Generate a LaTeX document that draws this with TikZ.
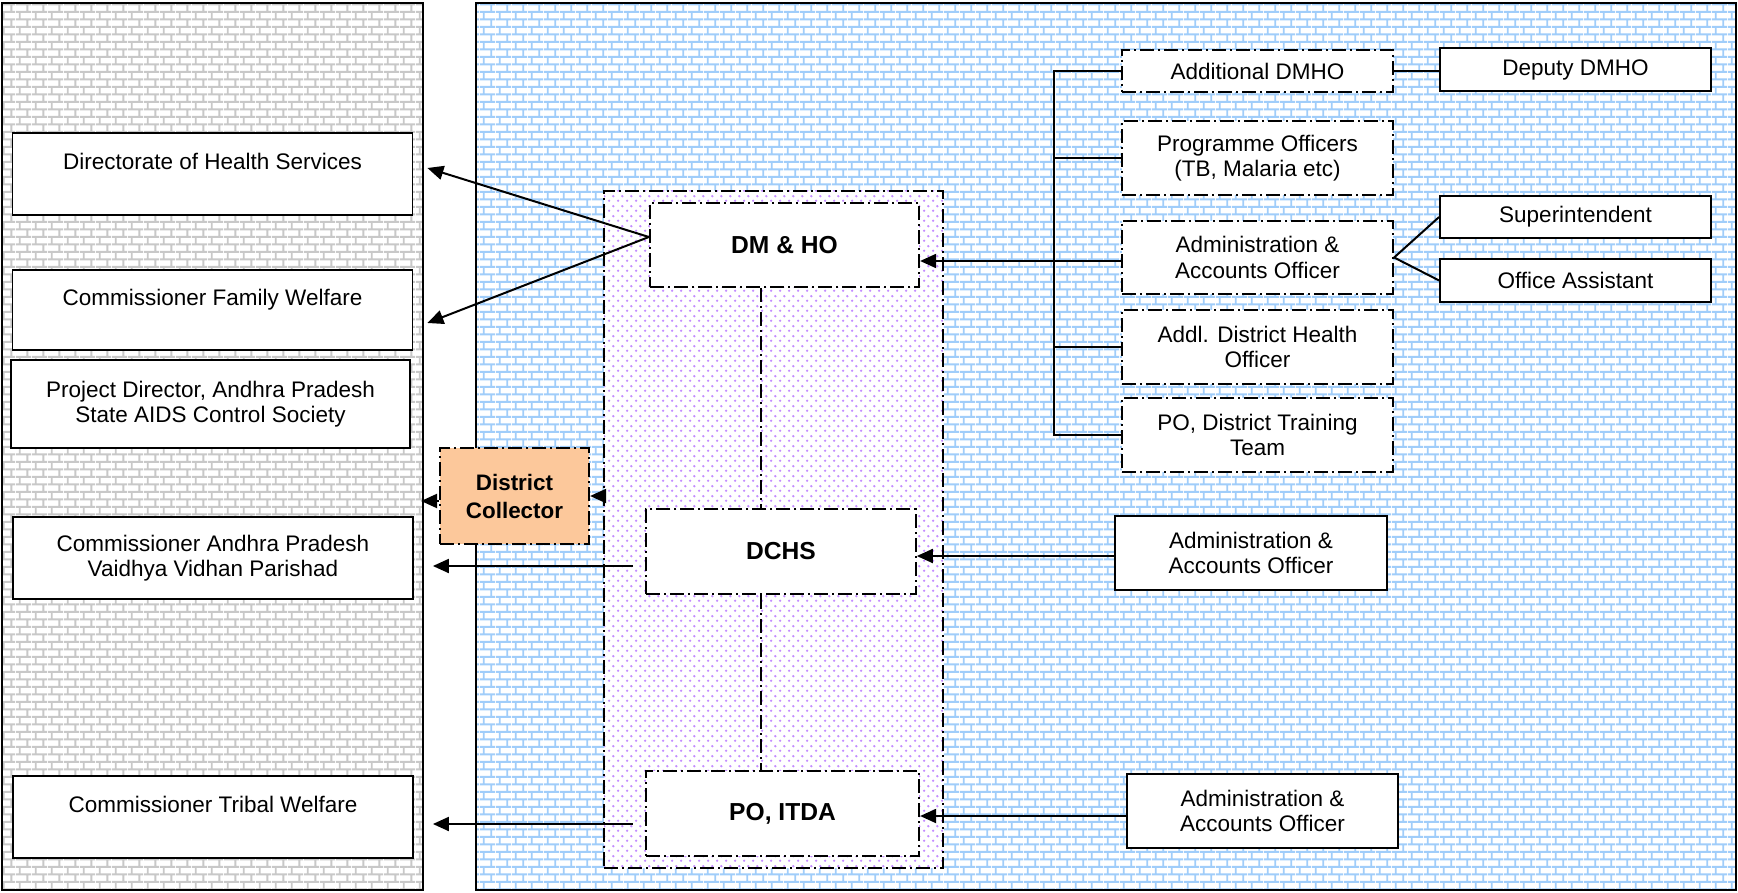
\documentclass[tikz,border=0pt]{standalone}
\usepackage{fontspec}
\setmainfont{Liberation Sans}
\usetikzlibrary{arrows.meta,patterns}

\definecolor{brickgray}{RGB}{200,200,200}
\definecolor{brickblue}{RGB}{160,205,250}
\definecolor{dotlilac}{RGB}{195,140,255}
\definecolor{collectorfill}{RGB}{252,200,155}

\pgfdeclarepatternformonly{wallbricks}{\pgfqpoint{0pt}{0pt}}{\pgfqpoint{8pt}{7.7pt}}{\pgfqpoint{8pt}{7.7pt}}{%
  \pgfsetlinewidth{1pt}%
  \pgfpathmoveto{\pgfqpoint{0pt}{1.9pt}}\pgfpathlineto{\pgfqpoint{8pt}{1.9pt}}%
  \pgfpathmoveto{\pgfqpoint{0pt}{5.75pt}}\pgfpathlineto{\pgfqpoint{8pt}{5.75pt}}%
  \pgfpathmoveto{\pgfqpoint{2pt}{1.9pt}}\pgfpathlineto{\pgfqpoint{2pt}{5.75pt}}%
  \pgfpathmoveto{\pgfqpoint{6pt}{5.75pt}}\pgfpathlineto{\pgfqpoint{6pt}{7.7pt}}%
  \pgfpathmoveto{\pgfqpoint{6pt}{0pt}}\pgfpathlineto{\pgfqpoint{6pt}{1.9pt}}%
  \pgfusepath{stroke}}

\pgfdeclarepatternformonly{lilacdots}{\pgfqpoint{0pt}{0pt}}{\pgfqpoint{4.6pt}{5pt}}{\pgfqpoint{4.6pt}{5pt}}{%
  \pgfpathcircle{\pgfqpoint{1.15pt}{1.25pt}}{0.7pt}%
  \pgfpathcircle{\pgfqpoint{3.45pt}{3.75pt}}{0.7pt}%
  \pgfusepath{fill}}

\begin{document}
\begin{tikzpicture}[x=0.5pt,y=-0.5pt]
\tikzstyle{every node}+=[font=\fontsize{11.25}{12.75}\selectfont, align=center, inner sep=0pt]
\tikzstyle{chainline}=[dash pattern=on 7pt off 2pt on 1pt off 2pt]
\tikzstyle{plainbox}=[draw=black, line width=0.9pt, fill=white, rectangle]
\tikzstyle{dotbox}=[draw=black, line width=1.1pt, fill=white, rectangle, chainline]
\tikzstyle{bold}=[font=\fontsize{12.3}{14}\selectfont\bfseries]
\tikzstyle{arr}=[line width=1pt, -{Triangle[length=8pt,width=7pt]}]
\tikzstyle{link}=[line width=1pt]
\useasboundingbox (0,0) rectangle (1738,893);
% the two walls
\draw [line width=0.9pt, preaction={fill=white}, pattern=wallbricks, pattern color=brickgray] (2,3) rectangle (423,890);
\draw [line width=0.9pt, preaction={fill=white}, pattern=wallbricks, pattern color=brickblue] (476,3) rectangle (1736,890);
\coordinate (wall) at (423,0);
\coordinate (trunk) at (1054,0);
% state level
\node [plainbox, minimum width=200pt, minimum height=41pt] (dhs) at (212.5,174) {Directorate of Health Services\\\mbox{}};
\node [plainbox, minimum width=200pt, minimum height=40pt] (cfw) at (212.5,310) {Commissioner Family Welfare\\\mbox{}};
\node [plainbox, minimum width=199.5pt, minimum height=44pt] (pd) at (210.5,404) {Project Director, Andhra Pradesh\\State AIDS Control Society};
\node [plainbox, minimum width=200pt, minimum height=41pt] (cavvp) at (213,558) {Commissioner Andhra Pradesh\\Vaidhya Vidhan Parishad};
\node [plainbox, minimum width=200pt, minimum height=41pt] (ctw) at (213,817) {Commissioner Tribal Welfare\\\mbox{}};
% district level
\node [draw=black, line width=1.1pt, chainline, preaction={fill=white}, pattern=lilacdots, pattern color=dotlilac, minimum width=169.5pt, minimum height=338.5pt] (district) at (773.5,529.5) {};
\node [dotbox, fill=collectorfill, minimum width=74.5pt, minimum height=48pt, font=\fontsize{11.2}{14}\selectfont\bfseries] (dc) at (514.5,496) {District\\Collector};
\node [dotbox, bold, minimum width=134.5pt, minimum height=42pt] (dmho) at (784.5,245) {DM \& HO};
\node [dotbox, bold, minimum width=134.75pt, minimum height=42.5pt] (dchs) at (781,551.5) {DCHS};
\node [dotbox, bold, minimum width=136.5pt, minimum height=42.5pt] (poitda) at (782.5,813.5) {PO, ITDA};
\draw [link, chainline] ([xshift=-12pt]dmho.south) coordinate (v1) -- (v1 |- dchs.north);
\draw [link, chainline] ([xshift=-10pt]dchs.south) coordinate (v2) -- (v2 |- poitda.north);
% officers under DM & HO
\node [dotbox, minimum width=135.5pt, minimum height=21pt] (adm) at (1257.5,71) {Additional DMHO};
\node [dotbox, minimum width=135.5pt, minimum height=37pt] (prog) at (1257.5,158) {Programme Officers\\(TB, Malaria etc)};
\node [dotbox, minimum width=135.5pt, minimum height=36.5pt] (aao) at (1257.5,257.5) {Administration \&\\Accounts Officer};
\node [dotbox, minimum width=135.5pt, minimum height=37pt] (adho) at (1257.5,347) {Addl. District Health\\Officer};
\node [dotbox, minimum width=135.5pt, minimum height=37pt] (podtt) at (1257.5,435) {PO, District Training\\Team};
\node [plainbox, minimum width=135.5pt, minimum height=21.5pt] (ddmho) at (1575.5,69.5) {Deputy DMHO};
\node [plainbox, minimum width=135.5pt, minimum height=21pt] (sup) at (1575.5,217) {Superintendent};
\node [plainbox, minimum width=135.5pt, minimum height=21.5pt] (oa) at (1575.5,280.5) {Office Assistant};
\node [plainbox, minimum width=136pt, minimum height=37pt] (aao2) at (1251,553) {Administration \&\\Accounts Officer};
\node [plainbox, minimum width=135.5pt, minimum height=37pt] (aao3) at (1262.5,811) {Administration \&\\Accounts Officer};
% reporting lines
\draw [arr] ([yshift=4pt]dmho.west) -- ([shift={(7pt,3pt)}]dhs.east);
\draw [arr] ([yshift=4pt]dmho.west) -- ([shift={(7pt,-6.5pt)}]cfw.east);
\draw [arr] ([shift={(-6pt,-7.25pt)}]dchs.west) -- ([shift={(9.5pt,-4pt)}]cavvp.east);
\draw [arr] ([shift={(-6pt,-5.25pt)}]poitda.west) -- ([shift={(9.5pt,-3.5pt)}]ctw.east);
\draw [arr, shorten <=-3pt] (dc.east -| district.west) -- (dc.east);
\draw [arr, shorten >=-1pt] ([yshift=-2.5pt]dc.west) coordinate (dcw) -- (dcw -| wall);
\draw [arr] ([yshift=-1.75pt]aao.west) coordinate (aaow) -- (aaow -| dmho.east);
\draw [arr] ([yshift=-1.5pt]aao2.west) coordinate (aao2w) -- (aao2w -| dchs.east);
\draw [arr] ([yshift=-2.5pt]aao3.west) coordinate (aao3w) -- (aao3w -| poitda.east);
% tree on the right
\draw [link] (adm.west) -- (adm.west -| trunk) |- (podtt.west);
\draw [link] (prog.west) -- (prog.west -| trunk);
\draw [link] (adho.west) -- (adho.west -| trunk);
\draw [link] (adm.east) -- (adm.east -| ddmho.west);
\draw [link] (aao.east) -- (sup.west);
\draw [link] (aao.east) -- (oa.west);
\end{tikzpicture}
\end{document}
